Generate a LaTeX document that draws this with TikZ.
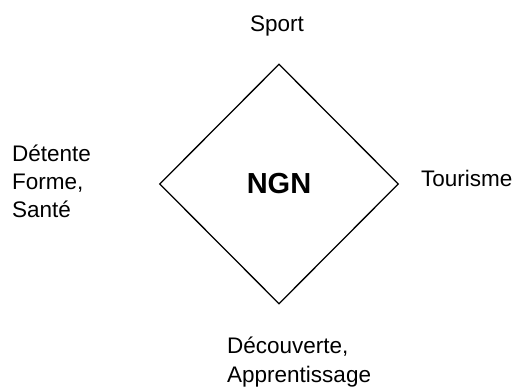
\documentclass[tikz,border=0pt]{standalone}
\usepackage{fontspec}
\setmainfont{Liberation Sans}
\usetikzlibrary{shapes.geometric}
\tikzset{lbl/.style={anchor=base west, inner sep=0, font=\fontsize{22.5}{28}\selectfont}}
\begin{document}
\begin{tikzpicture}[x=1pt,y=-1pt]
\useasboundingbox (0,0) rectangle (517,387);
\node[diamond, draw, line width=1.3pt, inner sep=0, minimum width=239pt, minimum height=240pt, font=\fontsize{29}{34}\selectfont\bfseries] (ngn) at (279,184){NGN};
\node[lbl] (sport) at (250,32){Sport};
\node[lbl] (det1) at (12,162){Détente};
\node[lbl] (det2) at (12,190){Forme,};
\node[lbl] (det3) at (12,218){Santé};
\node[lbl] (tour) at (421,187){Tourisme};
\node[lbl] (dec1) at (227,354){Découverte,};
\node[lbl] (dec2) at (227,382){Apprentissage};

\end{tikzpicture}
\end{document}
